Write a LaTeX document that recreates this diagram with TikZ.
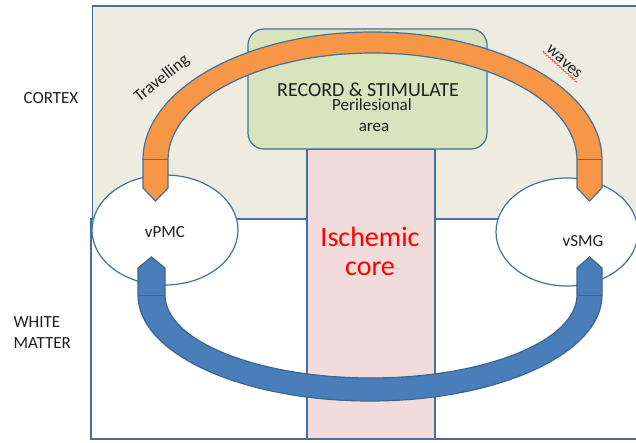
\documentclass[tikz,border=0pt]{standalone}
\usepackage{fontspec}
\setmainfont{Carlito}
\usepackage{tikz}
\usetikzlibrary{shapes.geometric, positioning, calc, decorations.pathmorphing}
\definecolor{cortexbg}{HTML}{EEECE1}
\definecolor{perigreen}{HTML}{D7E4BD}
\definecolor{corepink}{HTML}{F2DCDB}
\definecolor{edgeblue}{HTML}{41719C}
\definecolor{waveorange}{HTML}{F79646}
\definecolor{fibreblue}{HTML}{4A7EBB}
\definecolor{textgray}{HTML}{1F1F1F}

\begin{document}
\begin{tikzpicture}[x=1pt, y=1pt,
    outl/.style={draw=edgeblue, line width=1.2pt},
    lbl/.style={font=\fontsize{17}{21}\selectfont, text=textgray},
    region/.style={outl, ellipse, fill=white, inner sep=0pt}]
  \useasboundingbox (0,0) rectangle (636,442);
  \fill[white] (0,0) rectangle (636,442);

  \draw[outl, fill=cortexbg] (92.6,223) rectangle (645,436);
  \draw[outl, fill=white] (91,3) rectangle (645,223);
  \draw[outl, fill=corepink] (307,3) rectangle (435,293);
  \draw[outl, fill=perigreen, rounded corners=16] (248,293) rectangle (487,413);

  \node[region, minimum width=146, minimum height=110] (vpmc) at (165,212) {};
  \node[region, minimum width=142, minimum height=108] (vsmg) at (567,210) {};

  \draw[outl, fill=waveorange] (143,282) arc[start angle=180, end angle=0, x radius=229.5, y radius=128]
    -- (602,254) -- (589.5,241) -- (577,254) -- (577,282)
    arc[start angle=0, end angle=180, x radius=204.5, y radius=107]
    -- (168,254) -- (155.5,241) -- (143,254) -- cycle;
  \draw[edgeblue, line width=1pt] (143,282) -- (168,282) (577,282) -- (602,282);

  \draw[outl, draw=edgeblue!90!black, fill=fibreblue] (138,147) arc[start angle=180, end angle=360, x radius=232, y radius=106]
    -- (602,174) -- (589.5,185) -- (577,174) -- (577,147)
    arc[start angle=360, end angle=180, x radius=206, y radius=83]
    -- (165,174) -- (151.5,185) -- (138,174) -- cycle;
  \draw[edgeblue!90!black, line width=1pt] (138,147) -- (165,147) (577,147) -- (602,147);

  \node[lbl] (cortex) at (51,344) {CORTEX};
  \node[lbl, anchor=west, align=left] (white) at (10,109) {WHITE\\MATTER};
  \node[lbl, rotate=39] (travel) at (162,363) {Travelling};
  \node[lbl, rotate=-42, inner sep=2pt] (waves) at (564,380) {waves};
  \draw[red!80, line width=0.6pt, decorate, decoration={snake, amplitude=0.7pt, segment length=3pt}]
    (waves.south west) -- (waves.south east);

  \node[lbl, font=\fontsize{20}{24}\selectfont] (record) at (368,352) {RECORD \& STIMULATE};
  \node[lbl] (peri) at (372,337) {Perilesional};
  \node[lbl] (perib) at (374,315) {area};

  \node[font=\fontsize{28}{34}\selectfont, text=red] (isch) at (370,205) {Ischemic};
  \node[font=\fontsize{28}{34}\selectfont, text=red] (core) at (370,173) {core};

  \node[lbl] at ($(vpmc)+(0,-2)$) {vPMC};
  \node[lbl] at ($(vsmg)+(16,-9)$) {vSMG};
\end{tikzpicture}
\end{document}
